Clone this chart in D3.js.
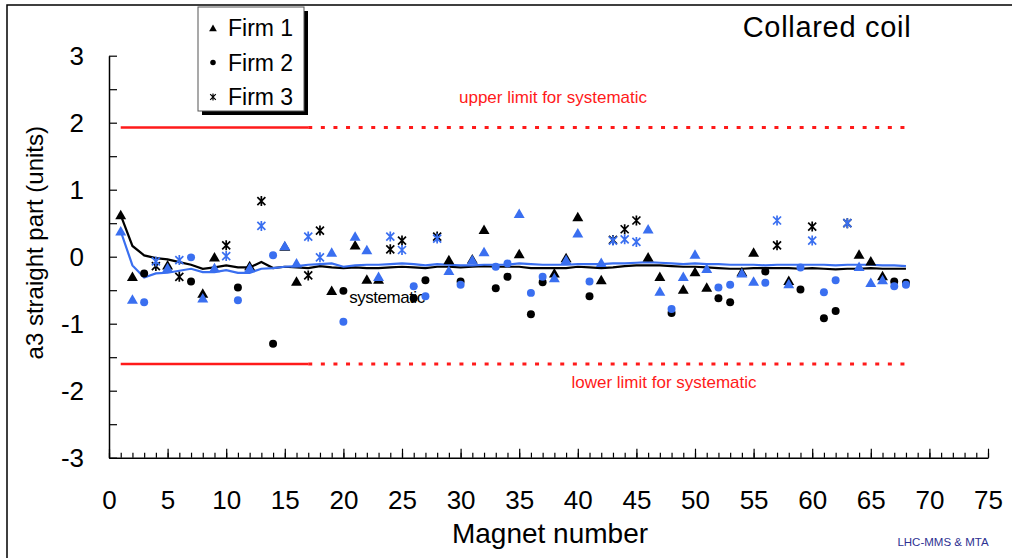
<!DOCTYPE html>
<html>
<head>
<meta charset="utf-8">
<script src="https://cdn.jsdelivr.net/npm/d3@7"></script>
<style>
  body { margin: 0; background: #fff; }
  svg { display: block; font-family: "Liberation Sans", Arial, sans-serif; }
</style>
</head>
<body>
<svg id="chart" width="1012" height="558"></svg>
<script>
// magnet numbers and which firm built each one
const magnets = d3.range(1, 69);
const firms = [1,1,2,3,1,3,2,1,1,3,2,1,3,2,1,1,3,3,1,2,1,1,1,3,3,2,2,3,1,2,
  1,1,2,2,1,2,2,1,1,1,2,1,3,3,3,1,1,2,1,1,1,2,2,1,1,2,3,1,2,3,2,2,3,1,1,1,2,2];

// a3 values, black markers and blue markers
const valuesBlack = [0.62,-0.30,-0.25,-0.14,-0.13,-0.30,-0.37,-0.55,-0.01,0.17,
  -0.46,-0.14,0.83,-1.30,0.15,-0.37,-0.28,0.39,-0.51,-0.51,
  0.17,-0.34,-0.34,0.11,0.24,-0.62,-0.35,0.30,-0.05,-0.37,
  -0.04,0.40,-0.47,-0.30,0.04,-0.86,-0.38,-0.25,-0.02,0.59,
  -0.59,-0.35,0.25,0.41,0.54,-0.01,-0.30,-0.84,-0.49,-0.23,
  -0.46,-0.62,-0.68,-0.23,0.06,-0.22,0.17,-0.36,-0.49,0.45,
  -0.92,-0.81,0.50,0.03,-0.07,-0.29,-0.37,-0.39];
const valuesBlue = [0.38,-0.64,-0.68,-0.07,-0.17,-0.05,-0.01,-0.62,-0.17,0.01,
  -0.65,-0.17,0.46,0.02,0.16,-0.10,0.30,-0.01,0.06,-0.97,
  0.30,0.10,-0.30,0.30,0.10,-0.44,-0.59,0.27,-0.21,-0.42,
  -0.05,0.07,-0.15,-0.10,0.64,-0.54,-0.30,-0.32,-0.05,0.35,
  -0.37,-0.09,0.24,0.26,0.22,0.41,-0.52,-0.78,-0.30,0.03,
  -0.18,-0.46,-0.42,-0.25,-0.37,-0.39,0.54,-0.41,-0.16,0.24,
  -0.53,-0.35,0.50,-0.15,-0.39,-0.35,-0.44,-0.42];

// systematic curves
const systBlack = [0.62,0.16,0.02,-0.02,-0.04,-0.08,-0.12,-0.18,-0.16,-0.13,
  -0.16,-0.16,-0.08,-0.17,-0.15,-0.16,-0.17,-0.14,-0.16,-0.17,
  -0.16,-0.17,-0.17,-0.16,-0.15,-0.16,-0.17,-0.15,-0.15,-0.16,
  -0.15,-0.14,-0.15,-0.15,-0.15,-0.17,-0.17,-0.17,-0.17,-0.15,
  -0.16,-0.17,-0.16,-0.14,-0.13,-0.13,-0.13,-0.14,-0.15,-0.15,
  -0.16,-0.17,-0.18,-0.18,-0.17,-0.17,-0.17,-0.17,-0.18,-0.17,
  -0.18,-0.19,-0.18,-0.18,-0.17,-0.18,-0.18,-0.18];
const systBlue = [0.38,-0.13,-0.31,-0.25,-0.24,-0.21,-0.18,-0.23,-0.23,-0.20,
  -0.24,-0.24,-0.18,-0.17,-0.15,-0.14,-0.12,-0.11,-0.10,-0.15,
  -0.13,-0.12,-0.12,-0.11,-0.10,-0.11,-0.13,-0.11,-0.12,-0.13,
  -0.13,-0.12,-0.12,-0.12,-0.10,-0.11,-0.12,-0.12,-0.12,-0.11,
  -0.11,-0.11,-0.10,-0.10,-0.09,-0.08,-0.09,-0.10,-0.11,-0.10,
  -0.11,-0.11,-0.12,-0.12,-0.12,-0.13,-0.12,-0.12,-0.12,-0.12,
  -0.12,-0.13,-0.12,-0.12,-0.12,-0.13,-0.13,-0.14];

// limits for systematic
const upperLimit = 1.93;
const lowerLimit = -1.6;
const limitSolidEnd = 17;
const limitStart = 1;
const limitEnd = 68;

const legendLabels = ["Firm 1", "Firm 2", "Firm 3"];
const xTicks = d3.range(0, 76, 5);

const blue = "#3a6ff0";
const red = "#ff1a1a";

const svg = d3.select("#chart");

const x = d3.scaleLinear().domain([0, 75]).range([109, 988]);
const y = d3.scaleLinear().domain([-3, 3]).range([457.7, 55.7]);

// outer frame
svg.append("path")
  .attr("d", "M7,560 L7,5 L1014,5")
  .attr("fill", "none")
  .attr("stroke", "#000")
  .attr("stroke-width", 1.5);

// y axis
const yAxis = svg.append("g")
  .attr("transform", `translate(${x(0)},0)`)
  .call(d3.axisLeft(y)
    .tickValues(d3.range(-3, 3.01, 0.5))
    .tickFormat((d) => (Number.isInteger(d) ? String(d) : ""))
    .tickSizeInner(-8).tickSizeOuter(0).tickPadding(25));
yAxis.selectAll("text").attr("font-size", 26).attr("fill", "#000")
  .attr("font-family", "Liberation Sans, Arial, sans-serif");

// x axis minor ticks
svg.append("g")
  .attr("transform", `translate(0,${y(-3)})`)
  .call(d3.axisBottom(x).tickValues(d3.range(0, 76, 1))
    .tickFormat("").tickSizeInner(-5).tickSizeOuter(0));
// x axis major ticks with labels
const xAxis = svg.append("g")
  .attr("transform", `translate(0,${y(-3)})`)
  .call(d3.axisBottom(x).tickValues(xTicks)
    .tickFormat((d) => String(d))
    .tickSizeInner(-9).tickSizeOuter(0).tickPadding(33));
xAxis.select(".domain").remove();
xAxis.selectAll("text").attr("font-size", 26).attr("fill", "#000")
  .attr("font-family", "Liberation Sans, Arial, sans-serif");
svg.selectAll(".tick line").attr("stroke", "#000").attr("stroke-width", 1.2);
svg.selectAll(".domain").attr("stroke", "#000").attr("stroke-width", 1.5);

// axis titles
svg.append("text")
  .attr("transform", `translate(43,${y(0) - 14}) rotate(-90)`)
  .attr("text-anchor", "middle")
  .attr("font-size", 24)
  .text("a3 straight part (units)");
svg.append("text")
  .attr("x", 550).attr("y", 543)
  .attr("text-anchor", "middle")
  .attr("font-size", 28)
  .text("Magnet number");
svg.append("text")
  .attr("x", 943).attr("y", 546)
  .attr("text-anchor", "middle")
  .attr("font-size", 11.5)
  .attr("fill", "#2e3192")
  .text("LHC-MMS & MTA");
svg.append("text")
  .attr("x", 827).attr("y", 37)
  .attr("text-anchor", "middle")
  .attr("font-size", 29)
  .attr("letter-spacing", 0.7)
  .text("Collared coil");

// limit lines
[upperLimit, lowerLimit].forEach((v) => {
  svg.append("line")
    .attr("x1", x(limitStart)).attr("x2", x(limitSolidEnd))
    .attr("y1", y(v)).attr("y2", y(v))
    .attr("stroke", red).attr("stroke-width", 2.5);
  svg.append("line")
    .attr("x1", x(limitSolidEnd)).attr("x2", x(limitEnd))
    .attr("y1", y(v)).attr("y2", y(v))
    .attr("stroke", red).attr("stroke-width", 3)
    .attr("stroke-dasharray", "4,8.6");
});
svg.append("text")
  .attr("x", 553).attr("y", y(upperLimit) - 24)
  .attr("text-anchor", "middle").attr("font-size", 17).attr("fill", red)
  .text("upper limit for systematic");
svg.append("text")
  .attr("x", 664).attr("y", y(lowerLimit) + 24)
  .attr("text-anchor", "middle").attr("font-size", 17).attr("fill", red)
  .text("lower limit for systematic");

// systematic curves
const line = d3.line().x((d, i) => x(magnets[i])).y((d) => y(d));
svg.append("path").datum(systBlack)
  .attr("d", line).attr("fill", "none")
  .attr("stroke", "#000").attr("stroke-width", 2.2);
svg.append("path").datum(systBlue)
  .attr("d", line).attr("fill", "none")
  .attr("stroke", blue).attr("stroke-width", 2.2);

svg.append("text")
  .attr("x", 387).attr("y", 303)
  .attr("text-anchor", "middle").attr("font-size", 17).attr("letter-spacing", -0.5)
  .text("systematic");

// markers
const shapes = {
  1: d3.symbol().type(d3.symbolTriangle).size(52)(),
  2: d3.symbol().type(d3.symbolCircle).size(50)(),
};
const star = (s) => `M${-s},${-s}L${s},${s}M${-s},${s}L${s},${-s}M0,${-s * 1.25}L0,${s * 1.25}`;

function drawMarkers(values, color) {
  const g = svg.append("g");
  values.forEach((v, i) => {
    const f = firms[i];
    const tx = `translate(${x(magnets[i])},${y(v)})`;
    if (f === 3) {
      g.append("path").attr("d", star(4)).attr("transform", tx)
        .attr("fill", "none").attr("stroke", color).attr("stroke-width", 1.7);
    } else {
      g.append("path").attr("d", shapes[f]).attr("transform", tx + (f === 1 ? " translate(0,1)" : ""))
        .attr("fill", color);
    }
  });
}
drawMarkers(valuesBlack, "#000");
drawMarkers(valuesBlue, blue);

// legend
const legend = svg.append("g");
legend.append("rect")
  .attr("x", 202).attr("y", 11).attr("width", 106).attr("height", 104)
  .attr("fill", "#000");
legend.append("rect")
  .attr("x", 198).attr("y", 7).attr("width", 106).attr("height", 104)
  .attr("fill", "#fff").attr("stroke", "#555").attr("stroke-width", 1);
legendLabels.forEach((lab, i) => {
  const cy = 28 + i * 34.5;
  if (i === 2) {
    legend.append("path").attr("d", star(2.8))
      .attr("transform", `translate(213,${cy})`)
      .attr("fill", "none").attr("stroke", "#000").attr("stroke-width", 1.2);
  } else {
    legend.append("path")
      .attr("d", d3.symbol().type(i === 0 ? d3.symbolTriangle : d3.symbolCircle).size(i === 0 ? 26 : 24)())
      .attr("transform", `translate(213,${cy + (i === 0 ? 1 : 0)})`)
      .attr("fill", "#000");
  }
  legend.append("text")
    .attr("x", 228).attr("y", cy + 8)
    .attr("font-size", 23)
    .text(lab);
});
</script>
</body>
</html>
